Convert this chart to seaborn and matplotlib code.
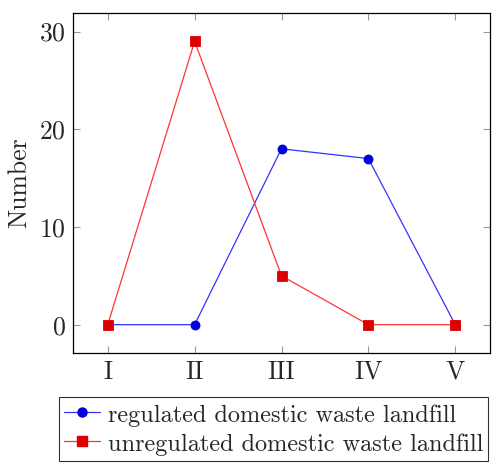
import matplotlib
matplotlib.use("Agg")
import matplotlib.pyplot as plt
import seaborn as sns
import pandas as pd
from matplotlib.lines import Line2D

categories = ["I", "II", "III", "IV", "V"]
regulated = [0, 0, 18, 17, 0]
unregulated = [0, 29, 5, 0, 0]
series_names = ["regulated domestic waste landfill", "unregulated domestic waste landfill"]

sns.set_style("ticks")
plt.rcParams["font.family"] = ["cmr10", "DejaVu Serif"]
plt.rcParams["mathtext.fontset"] = "cm"
plt.rcParams["axes.formatter.use_mathtext"] = True

df = pd.DataFrame({
    "x": list(range(len(categories))) * 2,
    "y": regulated + unregulated,
    "series": [series_names[0]] * len(categories) + [series_names[1]] * len(categories),
})

fig = plt.figure(figsize=(4.96, 4.63), dpi=100)
ax = fig.add_axes([73/496, 1 - 353/463, (490 - 73)/496, (353 - 13)/463])

sns.lineplot(data=df, x="x", y="y", hue="series", style="series",
             palette={series_names[0]: "#3333ff", series_names[1]: "#ff3333"},
             markers={series_names[0]: "o", series_names[1]: "s"},
             dashes=False, ax=ax, linewidth=0.9, markersize=6.5, legend=False,
             markeredgewidth=0.6)
for line, mc in zip(ax.get_lines(), ["#0000dd", "#dd0000"]):
    line.set_markerfacecolor(mc)
    line.set_markeredgecolor(mc)
    line.set_alpha(1)

ax.set_xlim(-0.4, 4.4)
ax.set_ylim(-2.9, 31.9)
ax.set_xticks(range(len(categories)))
ax.set_xticklabels(categories)
ax.set_yticks([0, 10, 20, 30])
ax.set_xlabel("")
ax.set_ylabel("Number", fontsize=18.5, labelpad=6)
ax.tick_params(axis="both", direction="in", top=True, right=True, length=5,
               width=0.8, color="#999999", labelsize=18.5, pad=5)
for s in ax.spines.values():
    s.set_linewidth(0.9)
    s.set_color("black")

handles = [
    Line2D([], [], color="#3333ff", lw=0.9, marker="o", markersize=6.5,
           markerfacecolor="#0000dd", markeredgecolor="#0000dd"),
    Line2D([], [], color="#ff3333", lw=0.9, marker="s", markersize=6.5,
           markerfacecolor="#dd0000", markeredgecolor="#dd0000"),
]
leg = fig.legend(handles, series_names, loc="upper left",
                 bbox_to_anchor=(59/496, 1 - 397/463), fontsize=17.5,
                 frameon=True, fancybox=False, edgecolor="black",
                 handlelength=1.45, handleheight=1.1, handletextpad=0.33,
                 borderpad=0.22, labelspacing=0.14, borderaxespad=0)
leg.get_frame().set_linewidth(0.8)

fig.savefig("out.png", dpi=100)
